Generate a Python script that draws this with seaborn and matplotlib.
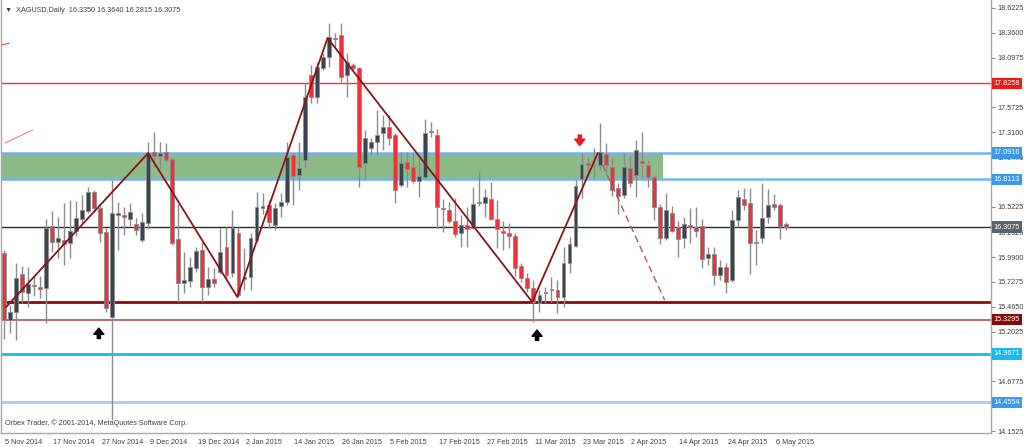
import matplotlib
matplotlib.use("Agg")
import matplotlib.pyplot as plt
import matplotlib.transforms as mtransforms
from matplotlib.patches import Rectangle
import seaborn as sns
import numpy as np
import pandas as pd

# daily XAGUSD candles, 5 Nov 2014 .. 8 May 2015 (one row per trading day)
opens = [16.03, 15.33, 15.41, 15.81, 15.61, 15.69, 15.67, 15.66, 16.32, 16.15,
         16.17, 16.14, 16.27, 16.39, 16.48, 16.68, 16.51, 16.255, 15.36, 16.43,
         16.43, 16.39, 16.34, 16.17, 16.35, 17.10, 17.06, 17.10, 17.03, 16.18,
         15.72, 15.74, 15.875, 16.065, 15.67, 15.76, 15.83, 16.10, 15.82, 16.245,
         15.76, 15.78, 16.17, 16.51, 16.54, 16.33, 16.53, 16.57, 17.07, 16.86,
         17.02, 17.91, 17.68, 17.99, 18.105, 18.30, 18.34, 17.91, 18.02, 17.99,
         16.985, 17.14, 17.21, 17.30, 17.365, 17.28, 16.75, 16.995, 16.94, 16.79,
         16.84, 17.31, 17.28, 16.50, 16.49, 16.37, 16.245, 16.33, 16.30, 16.56,
         16.56, 16.60, 16.39, 16.27, 16.245, 16.21, 15.90, 15.77, 15.66, 15.505,
         15.61, 15.645, 15.64, 15.57, 15.93, 16.11, 16.815, 16.985, 16.965, 16.96,
         17.08, 16.94, 16.72, 16.65, 16.93, 16.86, 17.005, 16.96, 16.84, 16.52,
         16.19, 16.46, 16.31, 16.19, 16.33, 16.31, 16.32, 15.98, 16.02, 15.80,
         15.89, 15.75, 16.38, 16.60, 16.56, 16.14, 16.19, 16.41, 16.55, 16.54,
         16.335]
highs = [16.07, 15.48, 15.93, 15.90, 15.89, 15.79, 15.79, 16.39, 16.48, 16.41,
         16.56, 16.59, 16.58, 16.65, 16.73, 16.70, 16.55, 16.30, 16.80, 16.57,
         16.52, 16.56, 16.40, 16.46, 17.21, 17.31, 17.21, 17.20, 17.05, 16.55,
         16.04, 15.99, 16.10, 16.15, 15.89, 15.875, 16.30, 16.31, 16.49, 16.31,
         16.09, 16.245, 16.68, 16.67, 16.59, 16.56, 16.67, 17.21, 17.09, 17.21,
         17.83, 18.02, 18.05, 18.15, 18.464, 18.36, 18.46, 18.15, 18.04, 18.00,
         17.33, 17.25, 17.545, 17.49, 17.49, 17.30, 17.10, 17.10, 17.10, 17.04,
         17.45, 17.42, 17.34, 16.60, 16.57, 16.615, 16.435, 16.52, 16.73, 16.90,
         16.71, 16.78, 16.59, 16.37, 16.35, 16.245, 15.93, 15.82, 15.75, 15.64,
         15.67, 15.78, 15.75, 16.10, 16.20, 16.805, 17.09, 17.05, 17.14, 17.41,
         17.20, 17.04, 16.77, 17.09, 17.07, 17.23, 17.31, 17.02, 16.86, 16.55,
         16.67, 16.53, 16.37, 16.41, 16.51, 16.52, 16.39, 16.10, 16.10, 15.96,
         15.93, 16.49, 16.70, 16.72, 16.72, 16.28, 16.77, 16.71, 16.66, 16.56,
         16.364]
lows = [15.13, 15.19, 15.11, 15.51, 15.46, 15.58, 15.56, 15.29, 16.04, 15.98,
        15.91, 15.98, 16.21, 16.35, 16.46, 16.47, 16.15, 15.41, 14.27, 16.065,
        16.22, 16.32, 16.22, 16.15, 16.29, 16.94, 16.92, 16.995, 16.12, 15.52,
        15.61, 15.67, 15.83, 15.52, 15.59, 15.67, 15.81, 15.77, 15.78, 15.57,
        15.64, 15.64, 16.15, 16.45, 16.30, 16.28, 16.41, 16.54, 16.54, 16.70,
        16.94, 17.62, 17.62, 17.97, 18.00, 18.21, 17.84, 17.68, 17.97, 16.73,
        16.805, 17.07, 17.07, 17.12, 17.175, 16.56, 16.73, 16.73, 16.77, 16.625,
        16.83, 17.26, 16.30, 16.255, 16.35, 16.20, 16.10, 16.10, 16.29, 16.53,
        16.41, 16.38, 16.09, 16.065, 16.09, 15.79, 15.73, 15.62, 15.30, 15.41,
        15.505, 15.52, 15.40, 15.46, 15.82, 16.10, 16.615, 16.86, 16.83, 16.91,
        16.86, 16.64, 16.45, 16.615, 16.73, 16.625, 16.83, 16.73, 16.38, 16.13,
        16.17, 16.255, 15.99, 16.09, 16.14, 16.20, 15.875, 15.91, 15.695, 15.75,
        15.61, 15.73, 16.31, 16.49, 15.81, 15.91, 16.14, 16.35, 16.49, 16.18,
        16.2815]
closes = [15.33, 15.41, 15.77, 15.62, 15.71, 15.70, 15.65, 16.30, 16.15, 16.19,
          16.13, 16.27, 16.40, 16.49, 16.68, 16.51, 16.245, 15.45, 16.46, 16.46,
          16.41, 16.47, 16.28, 16.36, 17.09, 17.06, 17.09, 17.02, 16.14, 15.72,
          15.75, 15.89, 16.05, 15.67, 15.76, 15.72, 16.04, 15.80, 16.30, 15.59,
          15.78, 16.19, 16.52, 16.53, 16.36, 16.51, 16.57, 17.05, 16.85, 16.93,
          17.68, 17.68, 18.00, 18.105, 18.316, 18.305, 17.89, 18.05, 17.99, 16.94,
          17.25, 17.21, 17.28, 17.365, 17.25, 16.70, 16.985, 16.92, 16.79, 16.85,
          17.30, 17.315, 16.52, 16.505, 16.37, 16.23, 16.33, 16.29, 16.55, 16.565,
          16.625, 16.39, 16.29, 16.245, 16.21, 15.875, 15.77, 15.66, 15.52, 15.59,
          15.615, 15.64, 15.57, 15.93, 16.13, 16.74, 16.975, 16.96, 16.96, 17.10,
          16.96, 16.70, 16.64, 16.94, 16.77, 17.12, 16.985, 16.84, 16.52, 16.19,
          16.49, 16.27, 16.18, 16.34, 16.31, 16.27, 15.97, 16.02, 15.80, 15.89,
          15.73, 16.38, 16.625, 16.54, 16.14, 16.145, 16.40, 16.54, 16.52, 16.32,
          16.3075]

date_labels = ["5 Nov 2014", "17 Nov 2014", "27 Nov 2014", "9 Dec 2014", "19 Dec 2014",
               "2 Jan 2015", "14 Jan 2015", "26 Jan 2015", "5 Feb 2015", "17 Feb 2015",
               "27 Feb 2015", "11 Mar 2015", "23 Mar 2015", "2 Apr 2015", "14 Apr 2015",
               "24 Apr 2015", "6 May 2015"]
bars_per_label = 8

price_ticks = [18.6225, 18.3600, 18.0975, 17.5725, 17.3100, 17.0475, 16.7850, 16.5225,
               16.2525, 15.9900, 15.7275, 15.4650, 15.2025, 14.9400, 14.6775, 14.4150,
               14.1525]
# ticks whose label sits right under a price tag
hidden_ticks = [16.7850, 14.9400, 14.4150]

# horizontal levels: price, line colour, line width, tag colour (None = no tag)
level_prices = [17.8258, 17.0916, 16.8113, 16.3075, 15.516, 15.3295, 14.9671, 14.4554]
level_colors = ["#ff2a2a", "#74b4ee", "#74b4ee", "#2a2a2a", "#8b0a0a", "#b86a6a", "#10bff5", "#a6cdf2"]
level_widths = [1.0, 1.8, 1.8, 1.0, 2.0, 1.4, 2.0, 2.0]
tag_colors = ["#f01818", "#3a98ee", "#3a98ee", "#5b636b", None, "#8b0a0a", "#18b8f0", "#3a98ee"]

zone_low, zone_high, zone_end = 16.8113, 17.0916, 109.5

trend_bars = [0.4, 24.0, 38.8, 53.8, 87.8, 98.7]
trend_prices = [15.463, 17.09, 15.57, 18.305, 15.516, 17.09]
proj_bars = [99.5, 109.8]
proj_prices = [16.963, 15.537]

up_arrow_bars = [15.8, 88.6]
up_arrow_prices = [15.13, 15.11]
down_arrow_bars = [95.7]
down_arrow_prices = [17.28]

df = pd.DataFrame({"open": opens, "high": highs, "low": lows, "close": closes})
df["bar"] = np.arange(len(df))

sns.set_style("white")
plt.rcParams["font.family"] = ["Liberation Sans", "DejaVu Sans"]

fig = plt.figure(figsize=(10.24, 4.47), dpi=100)
ax = fig.add_axes([0.001, 0.0313, 0.967, 0.9687])
ax.set_xlim(-0.45, 164.06)
ax.set_ylim(14.1316, 18.707)

# support/resistance zone
ax.add_patch(Rectangle((-0.45, zone_low), zone_end + 0.45, zone_high - zone_low,
                       facecolor="#8dbb88", edgecolor="none", zorder=1))

for p, c, w in zip(level_prices, level_colors, level_widths):
    ax.axhline(p, color=c, lw=w, zorder=2)

# candles
bull = df["close"] >= df["open"]
body_lo = np.minimum(df["open"], df["close"])
body_h = np.maximum((df["close"] - df["open"]).abs(), 0.008)
ax.vlines(df["bar"], df["low"], df["high"], color="#8c8c8c", lw=1, zorder=3)
ax.bar(df["bar"], body_h, bottom=body_lo, width=0.64,
       color=np.where(bull, "#3a4450", "#f2303a"), edgecolor="#8c8c8c",
       linewidth=0.6, zorder=4)

# zig-zag trend lines
trend = pd.DataFrame({"bar": trend_bars, "price": trend_prices})
sns.lineplot(data=trend, x="bar", y="price", color="#8b1414", lw=1.3, sort=False, ax=ax, zorder=5)
ax.plot(proj_bars, proj_prices, color="#c05555", lw=1, ls=(0, (5, 3)), zorder=5)
ax.plot([0.2, 4.8], [17.196, 17.333], color="#f08080", lw=0.8, zorder=5)
ax.plot([-0.45, 0.9], [18.23, 18.25], color="#f04040", lw=0.8, zorder=5)

arrow_style = "simple,head_width=0.8,head_length=0.5,tail_width=0.25"
for b, p in zip(up_arrow_bars, up_arrow_prices):
    ax.annotate("", xy=(b, p + 0.11), xytext=(b, p),
                arrowprops=dict(arrowstyle=arrow_style, color="black",
                                shrinkA=0, shrinkB=0, mutation_scale=9), zorder=6)
for b, p in zip(down_arrow_bars, down_arrow_prices):
    ax.annotate("", xy=(b, p - 0.11), xytext=(b, p),
                arrowprops=dict(arrowstyle=arrow_style, color="#f01818",
                                shrinkA=0, shrinkB=0, mutation_scale=9), zorder=6)

# axes styling
for s in ["left", "right", "bottom"]:
    ax.spines[s].set_color("#a8a8a8")
    ax.spines[s].set_linewidth(1)
ax.spines["top"].set_visible(False)

ax.yaxis.tick_right()
ax.set_yticks(price_ticks)
ax.set_yticklabels(["" if t in hidden_ticks else f"{t:.4f}" for t in price_ticks])
ax.tick_params(axis="y", direction="out", length=3, width=0.8, color="#8c8c8c",
               labelsize=5.2, labelcolor="#404040", pad=1.5)

xticks = np.arange(len(date_labels)) * bars_per_label
ax.set_xticks(xticks)
ax.set_xticklabels(date_labels, ha="left")
ax.tick_params(axis="x", direction="out", length=3, width=0.8, color="#8c8c8c",
               labelsize=5.2, labelcolor="#404040", pad=1.5)
shift = mtransforms.ScaledTranslation(1.5 / 100, 0, fig.dpi_scale_trans)
for lab in ax.get_xticklabels():
    lab.set_transform(lab.get_transform() + shift)
ax.set_xlabel("")
ax.set_ylabel("")

# price tags on the right axis
tag_tr = ax.get_yaxis_transform()
for p, tc in zip(level_prices, tag_colors):
    if tc is None:
        continue
    ax.text(1.0025, p, f"{p:.4f}", transform=tag_tr, ha="left", va="center",
            fontsize=5.2, color="white", clip_on=False, zorder=10,
            bbox=dict(boxstyle="square,pad=0.3", fc=tc, ec="none"))

ax.text(0.004, 0.984, "\u25bc  XAGUSD,Daily  16.3350 16.3640 16.2815 16.3075",
        transform=ax.transAxes, fontsize=5.2, color="#404040", ha="left", va="top")
ax.text(0.004, 0.013, "Orbex Trader, \u00a9 2001-2014, MetaQuotes Software Corp.",
        transform=ax.transAxes, fontsize=5.2, color="#404040", ha="left", va="bottom")

fig.savefig("out.png", dpi=100)
